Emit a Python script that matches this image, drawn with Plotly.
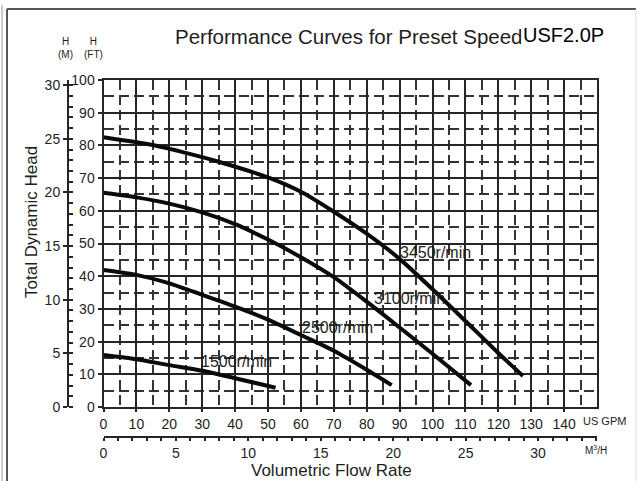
import plotly.graph_objects as go

W, H = 640, 481

# ---------------- data ----------------
gpm_3450 = [0, 15, 25, 35, 50, 60, 70, 80, 90, 100, 110, 120, 127.5]
ft_3450 = [82.5, 80.1, 77.7, 75.0, 70.2, 65.8, 59.7, 53.0, 45.3, 36.0, 26.3, 16.5, 9.5]

gpm_3100 = [0, 10, 20, 30, 40, 50, 60, 70, 80, 90, 100, 111.7]
ft_3100 = [65.5, 64.1, 62.2, 59.5, 55.9, 51.2, 45.8, 39.7, 32.2, 24.3, 16.3, 6.7]

gpm_2500 = [0, 10, 20, 30, 40, 50, 60, 70, 80, 87.6]
ft_2500 = [41.9, 40.4, 37.8, 34.3, 30.7, 26.7, 22.0, 17.2, 11.4, 6.7]

gpm_1500 = [0, 10, 20, 30, 40, 52.3]
ft_1500 = [15.9, 14.6, 12.8, 11.1, 8.8, 5.9]

speed_labels = ["3450r/min", "3100r/min", "2500r/min", "1500r/min"]
label_gpm = [100.8, 93.0, 71.0, 40.4]
label_ft = [47.1, 33.3, 24.2, 13.8]

gpm_ticks = list(range(0, 150, 10))
ft_ticks = list(range(0, 101, 10))
m_ticks = list(range(0, 31, 5))
m3h_ticks = list(range(0, 31, 5))

GPM_MAX = 150
FT_MAX = 100
FT_PER_M = 3.2808
GPM_PER_M3H = 4.40287

# ---------------- layout geometry (pixels) ----------------
x0_px, x1_px = 103.5, 597
y_top_px, y_bot_px = 80, 407
xd = [x0_px / W, x1_px / W]
yd = [1 - y_bot_px / H, 1 - y_top_px / H]

NARROW = "Liberation Sans Narrow, Arial Narrow, Liberation Sans, Arial, sans-serif"
INK = "#1e1e1e"

fig = go.Figure()
curves = [(gpm_3450, ft_3450), (gpm_3100, ft_3100), (gpm_2500, ft_2500), (gpm_1500, ft_1500)]
for gx, fy in curves:
    fig.add_trace(go.Scatter(x=gx, y=fy, mode="lines",
                             line=dict(color="#0a0a0a", width=4, shape="spline", smoothing=0.7),
                             showlegend=False, hoverinfo="skip"))

# helper trace so the secondary axes get drawn
fig.add_trace(go.Scatter(x=[None], y=[None], xaxis="x2", yaxis="y2",
                         showlegend=False, hoverinfo="skip"))

annotations = []
for t, gx, fy in zip(speed_labels, label_gpm, label_ft):
    annotations.append(dict(x=gx, y=fy, xref="x", yref="y", text=t, showarrow=False,
                            xanchor="center", yanchor="middle",
                            font=dict(family=NARROW, size=16, color=INK)))

def px_ann(text, x, y, size, xanchor="center", family=NARROW, angle=0, bg=None, color=INK):
    d = dict(x=x / W, y=1 - y / H, xref="paper", yref="paper", text=text, showarrow=False,
             xanchor=xanchor, yanchor="middle", textangle=angle,
             font=dict(family=family, size=size, color=color))
    if bg:
        d["bgcolor"] = bg
    return d

annotations += [
    px_ann("Performance Curves for Preset Speed", 173, 37, 20.5, xanchor="left"),
    px_ann("USF2.0P", 521, 35, 20, xanchor="left",
           family="Liberation Sans, Arial, sans-serif", bg="white", color="#000"),
    px_ann("H<br>(M)", 65, 48, 10),
    px_ann("H<br>(FT)", 93, 48, 10),
    px_ann("Total Dynamic Head", 31, 222, 17, angle=-90),
    px_ann("Volumetric Flow Rate", 331, 470, 17),
    px_ann("US GPM", 581, 421, 11, xanchor="left"),
    px_ann("M<sup>3</sup>/H", 583, 450, 10, xanchor="left"),
]

shapes = [
    dict(type="line", xref="paper", yref="paper", x0=7 / W, x1=636 / W, y0=1 - 9 / H, y1=1 - 9 / H,
         line=dict(color="#555", width=2)),
    dict(type="line", xref="paper", yref="paper", x0=7 / W, x1=7 / W, y0=0, y1=1 - 9 / H,
         line=dict(color="#555", width=2)),
    dict(type="line", xref="paper", yref="paper", x0=2 / W, x1=2 / W, y0=0, y1=1 - 5 / H,
         line=dict(color="#bbb", width=1.5)),
    dict(type="line", xref="paper", yref="paper", x0=636 / W, x1=636 / W, y0=0, y1=1 - 9 / H,
         line=dict(color="#ddd", width=1)),
]

tickfont = dict(family=NARROW, size=14, color=INK)

fig.update_layout(
    width=W, height=H,
    margin=dict(l=0, r=0, t=0, b=0, pad=0, autoexpand=False),
    paper_bgcolor="white", plot_bgcolor="white",
    annotations=annotations, shapes=shapes,
    xaxis=dict(domain=xd, range=[0, GPM_MAX], tickmode="array", tickvals=gpm_ticks,
               showgrid=True, gridcolor="#262626", gridwidth=2,
               minor=dict(tickmode="array", tickvals=[v + 5 for v in range(0, 150, 10)],
                          showgrid=True, gridcolor="#333", gridwidth=1.5, griddash="10px,5px"),
               showline=True, linecolor="#262626", linewidth=2, mirror=True,
               ticks="outside", ticklen=3, tickwidth=2, tickcolor="#262626",
               tickfont=tickfont, zeroline=False, fixedrange=True, automargin=False),
    yaxis=dict(domain=yd, range=[0, FT_MAX], tickmode="array", tickvals=ft_ticks,
               showgrid=True, gridcolor="#262626", gridwidth=2,
               minor=dict(tickmode="array", tickvals=[v + 5 for v in range(0, 100, 10)],
                          showgrid=True, gridcolor="#333", gridwidth=1.5, griddash="10px,5px"),
               showline=True, linecolor="#262626", linewidth=2, mirror=True,
               ticks="outside", ticklen=4, tickwidth=2, tickcolor="#262626",
               tickfont=tickfont, zeroline=False, fixedrange=True, automargin=False),
    xaxis2=dict(domain=xd, overlaying="x", anchor="free", position=1 - 437 / H, side="bottom",
                range=[0, GPM_MAX / GPM_PER_M3H], tickmode="array", tickvals=m3h_ticks,
                showgrid=False, zeroline=False,
                showline=True, linecolor="#262626", linewidth=2,
                ticks="outside", ticklen=3, tickwidth=2, tickcolor="#262626",
                minor=dict(tickmode="linear", tick0=0, dtick=1, ticks="outside",
                           ticklen=3, tickwidth=2, tickcolor="#262626"),
                tickfont=tickfont, fixedrange=True, automargin=False),
    yaxis2=dict(domain=yd, overlaying="y", anchor="free", position=68 / W, side="left",
                range=[0, FT_MAX / FT_PER_M], tickmode="array", tickvals=m_ticks,
                showgrid=False, zeroline=False,
                showline=True, linecolor="#262626", linewidth=2,
                ticks="outside", ticklen=4, tickwidth=2, tickcolor="#262626",
                minor=dict(tickmode="linear", tick0=0, dtick=1, ticks="inside",
                           ticklen=4, tickwidth=2, tickcolor="#262626"),
                tickfont=tickfont, fixedrange=True, automargin=False),
)

fig.write_html("out.html", config={"displayModeBar": False},
               post_script="document.body.style.margin='0px';document.body.style.padding='0px';")
